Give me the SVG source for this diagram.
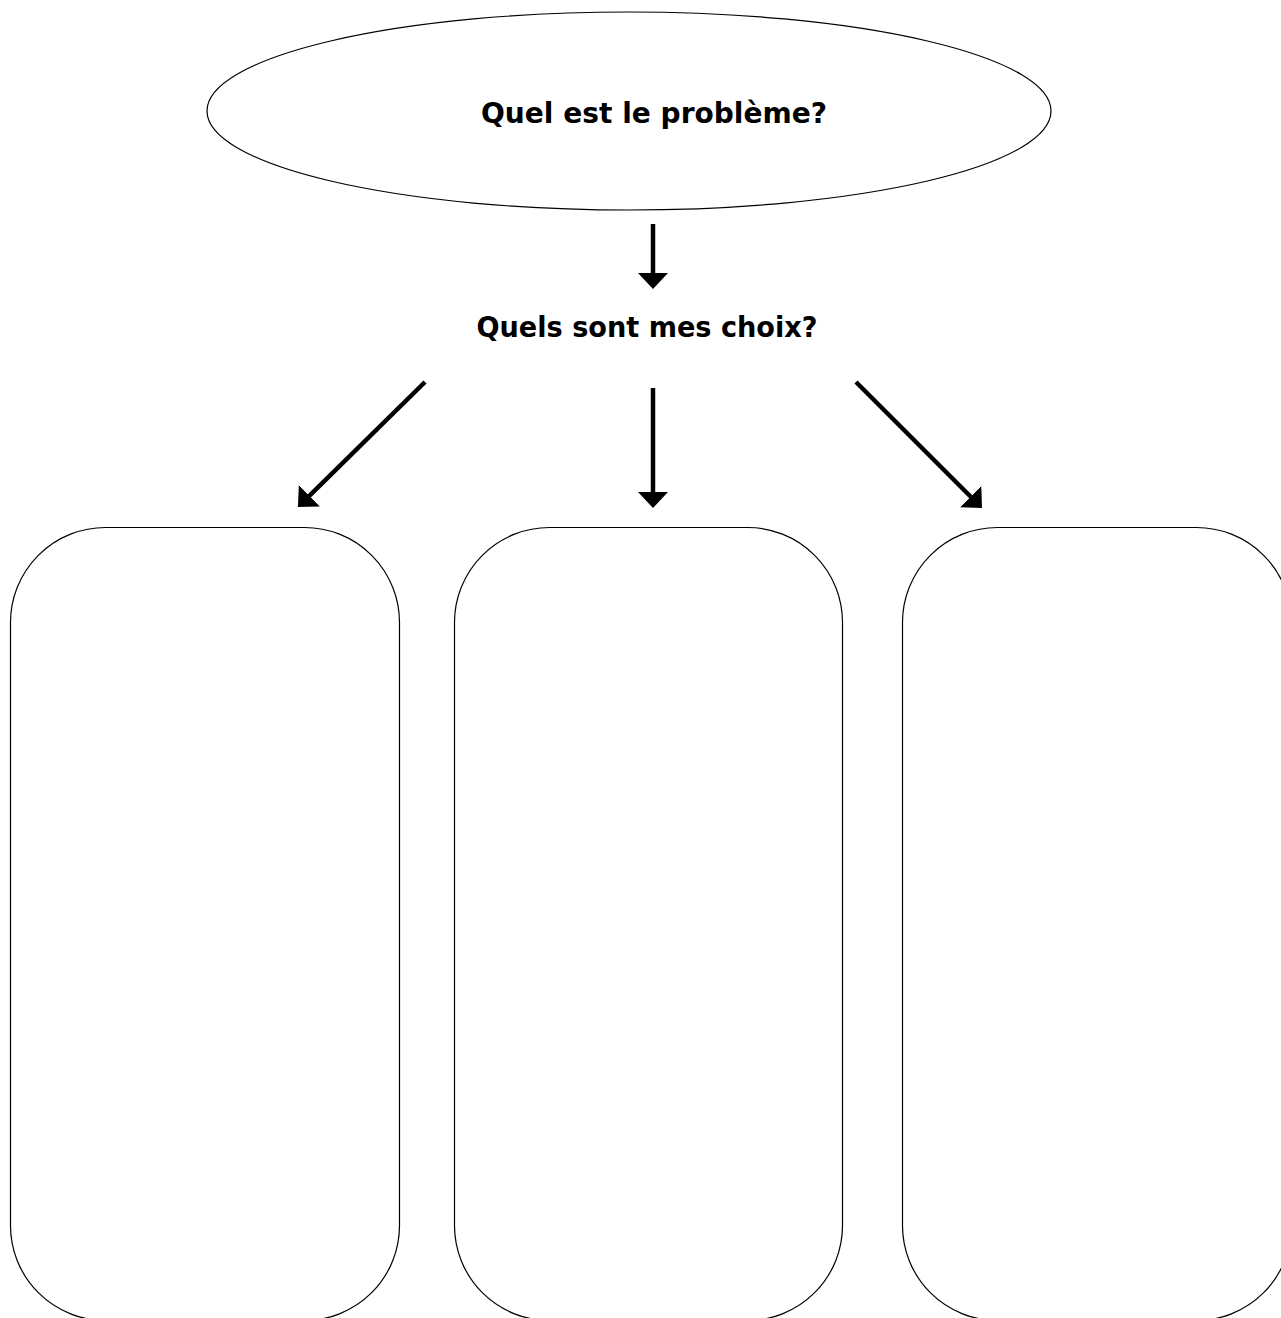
<svg xmlns="http://www.w3.org/2000/svg" width="1281" height="1318" viewBox="0 0 1281 1318">
<style>
.shape{fill:#fff;stroke:#000;stroke-width:1.2}
.lbl{font-family:"Comic Sans MS","DejaVu Sans","Liberation Sans",sans-serif;font-weight:bold;font-size:28px;fill:#000;text-anchor:middle}
.conn{stroke:#000;stroke-width:4.5;fill:none;marker-end:url(#ah)}
</style>
<defs>
<marker id="ah" viewBox="0 0 16 30" refX="4" refY="15" markerWidth="16" markerHeight="30" markerUnits="userSpaceOnUse" orient="auto">
<path d="M0,0 L16,15 L0,30 Z" fill="#000"/>
</marker>
</defs>
<rect width="1281" height="1318" fill="#fff"/>
<g id="node-probleme">
<ellipse class="shape" cx="629" cy="111" rx="422" ry="99"/>
<text class="lbl" x="654" y="123" textLength="346" lengthAdjust="spacingAndGlyphs">Quel est le problème?</text>
</g>
<g id="node-choix">
<text class="lbl" x="647" y="337" textLength="341" lengthAdjust="spacingAndGlyphs">Quels sont mes choix?</text>
</g>
<g id="node-box1">
<rect class="shape" x="10.5" y="527.5" width="389" height="793" rx="95" ry="95"/>
</g>
<g id="node-box2">
<rect class="shape" x="454.5" y="527.5" width="388" height="793" rx="95" ry="95"/>
</g>
<g id="node-box3">
<rect class="shape" x="902.5" y="527.5" width="389" height="793" rx="95" ry="95"/>
</g>
<g id="connectors">
<line class="conn" x1="653" y1="224" x2="653" y2="277"/>
<line class="conn" x1="653" y1="388" x2="653" y2="496"/>
<line class="conn" x1="425" y1="382" x2="306.5" y2="498.6"/>
<line class="conn" x1="856" y1="382" x2="973.5" y2="499.5"/>
</g>
</svg>
